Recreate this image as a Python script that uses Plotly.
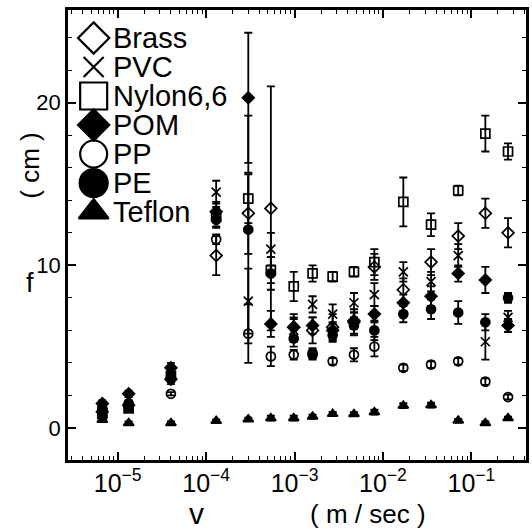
import plotly.graph_objects as go

# velocity columns (m/sec)
v = [6.7e-6, 1.33e-5, 4.0e-5, 1.3e-4, 3.0e-4, 5.4e-4, 9.8e-4, 1.6e-3,
     2.7e-3, 4.7e-3, 8.0e-3, 1.7e-2, 3.5e-2, 7.1e-2, 0.144, 0.26]

brass = [1.0, 1.4, 3.0, 10.6, 13.2, 13.5, 6.2, 6.0, 6.2, 6.5, 9.9, 8.5, 10.2, 11.8, 13.2, 12.0]
brass_err = [0.2, 0.2, 0.3, 1.2, 2.5, 7.5, 0.8, 0.8, 0.8, 0.8, 0.8, 0.7, 0.8, 0.8, 0.9, 0.9]

pvc = [1.1, 1.3, 3.4, 14.5, 7.8, 11.0, 6.0, 7.6, 7.0, 7.7, 8.2, 9.6, 9.0, 10.6, 5.3, 6.8]
pvc_err = [0.2, 0.2, 0.3, 0.7, 2.0, 1.0, 0.7, 0.5, 0.6, 0.6, 0.7, 0.6, 0.6, 0.7, 1.1, 0.4]

nylon = [0.9, 1.2, 3.2, 13.0, 14.1, 9.7, 8.7, 9.5, 9.3, 9.6, 10.2, 13.9, 12.5, 14.6, 18.1, 17.0]
nylon_err = [0.2, 0.2, 0.3, 0.6, 1.5, 0.8, 0.9, 0.5, 0.3, 0.3, 0.8, 1.5, 0.7, 0.3, 1.1, 0.5]

pom = [1.5, 2.1, 3.7, 13.3, 20.3, 6.4, 6.2, 6.3, 6.0, 6.6, 7.0, 7.7, 8.1, 9.5, 9.1, 6.3]
pom_err = [0.2, 0.2, 0.3, 0.6, 4.0, 0.8, 0.6, 0.5, 0.5, 0.5, 0.5, 0.5, 0.6, 0.5, 0.8, 0.4]

pp = [0.7, 1.3, 2.1, 11.6, 5.8, 4.4, 4.5, 4.5, 4.1, 4.5, 5.0, 3.7, 3.9, 4.1, 2.85, 1.9]
pp_err = [0.1, 0.1, 0.1, 0.3, 1.8, 0.6, 0.3, 0.3, 0.2, 0.4, 0.6, 0.2, 0.2, 0.2, 0.2, 0.15]

pe = [1.2, 1.5, 3.1, 12.8, 12.2, 9.5, 5.5, 4.6, 5.7, 6.3, 6.0, 7.0, 7.3, 7.1, 6.5, 8.0]
pe_err = [0.2, 0.2, 0.3, 0.5, 7.0, 1.0, 0.5, 0.3, 0.4, 0.5, 0.6, 0.5, 0.6, 0.7, 0.5, 0.3]

teflon = [0.5, 0.3, 0.3, 0.43, 0.53, 0.6, 0.6, 0.7, 0.86, 0.85, 0.97, 1.37, 1.4, 0.45, 0.3, 0.6]
teflon_err = [0.1, 0.1, 0.1, 0.1, 0.1, 0.15, 0.15, 0.12, 0.12, 0.12, 0.15, 0.15, 0.15, 0.1, 0.1, 0.1]

names = ["Brass", "PVC", "Nylon6,6", "POM", "PP", "PE", "Teflon"]
values = [brass, pvc, nylon, pom, pp, pe, teflon]
errors = [brass_err, pvc_err, nylon_err, pom_err, pp_err, pe_err, teflon_err]
symbols = ["diamond-open", "x-thin-open", "square-open", "diamond", "circle-open", "circle", "triangle-up"]
legend_sizes = [24, 20, 27, 24, 27, 28, 26]

font = "Liberation Sans, Arial, sans-serif"

fig = go.Figure()
for name, ys, err, sym in zip(names, values, errors, symbols):
    fig.add_trace(go.Scatter(
        x=v, y=ys, mode="markers", showlegend=False, name=name,
        marker=dict(symbol=sym, size=9, color="black", line=dict(color="black", width=1.7)),
        error_y=dict(type="data", array=err, color="black", thickness=1.8, width=4),
    ))

# key (legend) drawn inside the frame, top-left, on an overlay axis of unit range
leg_x = 0.056
leg_text_x = 0.094
leg_top = (460 - 38) / 450
leg_step = 29 / 450
annotations = []
for i, (name, sym, ms) in enumerate(zip(names, symbols, legend_sizes)):
    yy = leg_top - i * leg_step
    fig.add_trace(go.Scatter(
        x=[leg_x], y=[yy], xaxis="x2", yaxis="y2", mode="markers", showlegend=False,
        hoverinfo="skip", name=name,
        marker=dict(symbol=sym, size=ms, color="black", line=dict(color="black", width=2.2)),
    ))
    annotations.append(dict(text=name, xref="paper", yref="paper", x=leg_text_x, y=yy,
                            xanchor="left", yanchor="middle", showarrow=False,
                            font=dict(size=29, family=font)))

annotations += [
    dict(text="f", xref="paper", yref="paper", x=-0.082, y=0.393, showarrow=False,
         font=dict(size=27), xanchor="center", yanchor="middle"),
    dict(text="( cm )", xref="paper", yref="paper", x=-0.082, y=0.655, showarrow=False,
         font=dict(size=26), textangle=-90, xanchor="center", yanchor="middle"),
    dict(text="v", xref="paper", yref="paper", x=0.280, y=-0.119, showarrow=False,
         font=dict(size=30), xanchor="center", yanchor="middle"),
    dict(text="( m / sec )", xref="paper", yref="paper", x=0.655, y=-0.119, showarrow=False,
         font=dict(size=26), xanchor="center", yanchor="middle"),
]

fig.update_layout(
    width=532, height=529,
    margin=dict(l=68, r=3, t=10, b=69),
    paper_bgcolor="white", plot_bgcolor="white",
    font=dict(family=font, color="black", size=22),
    showlegend=False,
    xaxis=dict(type="log", range=[-5.562, -0.382], dtick=1, exponentformat="power",
               showgrid=False, zeroline=False, showline=True, linecolor="black", linewidth=2.8,
               mirror="allticks", ticks="inside", ticklen=8, tickwidth=1.6, tickcolor="black",
               tickfont=dict(size=20),
               minor=dict(ticks="inside", ticklen=4, tickwidth=1.3, tickcolor="black", showgrid=False)),
    yaxis=dict(range=[-1.97, 25.7], dtick=10, showgrid=False, zeroline=False,
               showline=True, linecolor="black", linewidth=2.8,
               mirror="allticks", ticks="inside", ticklen=8, tickwidth=1.6, tickcolor="black",
               tickfont=dict(size=22),
               minor=dict(dtick=2, ticks="inside", ticklen=4, tickwidth=1.3, tickcolor="black", showgrid=False)),
    xaxis2=dict(overlaying="x", range=[0, 1], visible=False),
    yaxis2=dict(overlaying="y", range=[0, 1], visible=False),
    annotations=annotations,
)
fig.write_html("out.html")
